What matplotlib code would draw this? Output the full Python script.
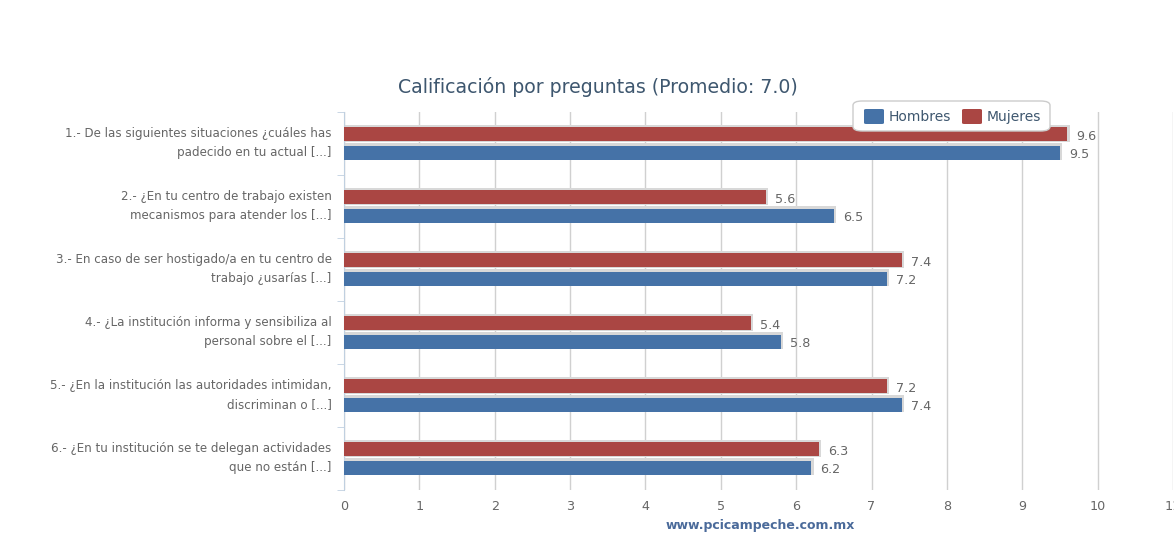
import numpy as np
import matplotlib.pyplot as plt
import matplotlib.transforms as mtransforms
from matplotlib.patches import FancyBboxPatch, Rectangle

preguntas = [
    "1.- De las siguientes situaciones ¿cuáles has\npadecido en tu actual [...]",
    "2.- ¿En tu centro de trabajo existen\nmecanismos para atender los [...]",
    "3.- En caso de ser hostigado/a en tu centro de\ntrabajo ¿usarías [...]",
    "4.- ¿La institución informa y sensibiliza al\npersonal sobre el [...]",
    "5.- ¿En la institución las autoridades intimidan,\ndiscriminan o [...]",
    "6.- ¿En tu institución se te delegan actividades\nque no están [...]",
]
hombres = [9.5, 6.5, 7.2, 5.8, 7.4, 6.2]
mujeres = [9.6, 5.6, 7.4, 5.4, 7.2, 6.3]

azul = "#4572A7"
rojo = "#AA4643"
gris_txt = "#666666"

W, H = 1174, 536
fig = plt.figure(figsize=(W / 100, H / 100), dpi=100)
fig.patch.set_facecolor("white")

# plot area in pixels: left 344, right 1173, top 112, bottom 490
ax = fig.add_axes([344 / W, 1 - 490 / H, (1173 - 344) / W, (490 - 112) / H])
ax.set_xlim(0, 11)
n = len(preguntas)
ax.set_ylim(n - 0.5, -0.5)

y = np.arange(n)
h = 0.225
off = 0.145

# shadows
for yy, v in zip(y - off, mujeres):
    ax.add_patch(Rectangle((0, yy - h / 2 - 0.035), v + 0.03, h + 0.04,
                           facecolor="#d8d8d8", edgecolor="none", zorder=2))
for yy, v in zip(y + off, hombres):
    ax.add_patch(Rectangle((0, yy - h / 2 - 0.035), v + 0.03, h + 0.04,
                           facecolor="#d8d8d8", edgecolor="none", zorder=2))

ax.barh(y - off, mujeres, height=h, color=rojo, zorder=3, label="Mujeres")
ax.barh(y + off, hombres, height=h, color=azul, zorder=3, label="Hombres")

for yy, v in zip(y - off, mujeres):
    ax.text(v + 0.12, yy + 0.03, f"{v:.1f}", va="center", ha="left",
            fontsize=9.2, color=gris_txt, zorder=5)
for yy, v in zip(y + off, hombres):
    ax.text(v + 0.12, yy + 0.03, f"{v:.1f}", va="center", ha="left",
            fontsize=9.2, color=gris_txt, zorder=5)

ax.set_xticks(range(0, 12))
ax.set_xticklabels([str(i) for i in range(0, 12)], fontsize=9.2, color=gris_txt)
ax.xaxis.grid(True, color="#d0d0d0", linewidth=1)
ax.set_axisbelow(True)
ax.tick_params(axis="x", length=0, pad=7)

ax.set_yticks(y)
ax.set_yticklabels(preguntas, fontsize=8.6, color=gris_txt, ha="right",
                   linespacing=1.6)
ax.tick_params(axis="y", length=0, pad=9)
# nudge labels up a few pixels
shift = mtransforms.ScaledTranslation(0, 3.5 / 72, fig.dpi_scale_trans)
for lbl in ax.get_yticklabels():
    lbl.set_transform(lbl.get_transform() + shift)
ax.set_yticks(np.arange(-0.5, n, 1), minor=True)
ax.tick_params(axis="y", which="minor", length=5, color="#C0D0E0", direction="out")

for s in ["top", "right", "bottom"]:
    ax.spines[s].set_visible(False)
ax.spines["left"].set_color("#C0D0E0")

fig.text(598 / W, 1 - 87 / H, "Calificación por preguntas (Promedio: 7.0)",
         ha="center", va="center", fontsize=13.6, color="#3E576F")

# legend box
lg = FancyBboxPatch((853 / W, 1 - 131 / H), 197 / W, 30 / H,
                    boxstyle="round,pad=0,rounding_size=0.008",
                    transform=fig.transFigure, facecolor="white",
                    edgecolor="#cccccc", linewidth=1, zorder=10)
fig.patches.append(lg)
for x0, col, txt in [(864, azul, "Hombres"), (962, rojo, "Mujeres")]:
    sq = FancyBboxPatch((x0 / W, 1 - 124 / H), 20 / W, 15 / H,
                        boxstyle="round,pad=0,rounding_size=0.002",
                        transform=fig.transFigure, facecolor=col,
                        edgecolor="none", zorder=11)
    fig.patches.append(sq)
    fig.text((x0 + 25) / W, 1 - 117 / H, txt, ha="left", va="center",
             fontsize=10, color="#3E576F", zorder=12)

fig.text(760 / W, 1 - 525 / H, "www.pcicampeche.com.mx", ha="center",
         va="center", fontsize=9, fontweight="bold", color="#4a6a9a")

fig.savefig("out.png", dpi=100)
